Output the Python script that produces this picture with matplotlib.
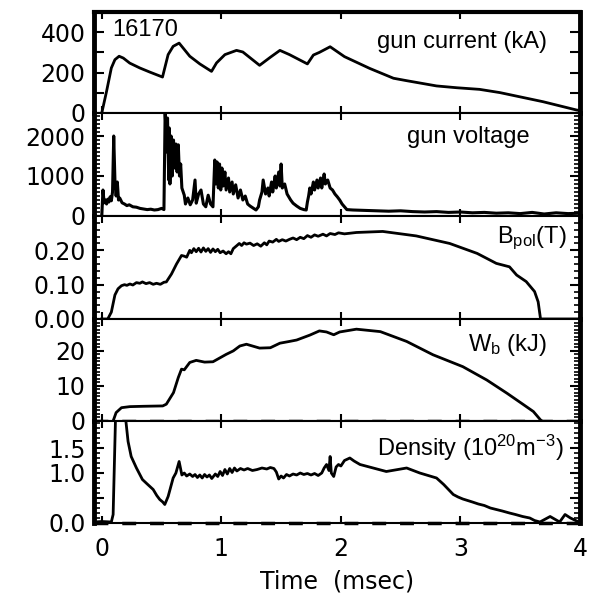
import matplotlib
matplotlib.use("Agg")
import matplotlib.pyplot as plt
from matplotlib.ticker import MultipleLocator, FixedLocator

plt.rcParams['font.family'] = ['DejaVu Sans']
plt.rcParams['mathtext.default'] = 'regular'

# gun current (kA)
cur_t = [0.0, 0.04, 0.08, 0.11, 0.145, 0.18, 0.234, 0.318, 0.40, 0.508, 0.527, 0.555,
         0.597, 0.647, 0.68, 0.736, 0.82, 0.918, 0.96, 1.03, 1.127, 1.18, 1.32, 1.41,
         1.49, 1.57, 1.72, 1.77, 1.82, 1.91, 2.03, 2.24, 2.44, 2.55, 2.80, 2.97, 3.16,
         3.33, 3.53, 3.69, 3.97, 4.0]
cur_v = [0, 107, 223, 264, 281, 272, 247, 223, 203, 178, 223, 289, 330, 346, 322, 281,
         243, 206, 248, 289, 310, 302, 236, 276, 310, 289, 243, 287, 300, 328, 279, 221,
         172, 160, 134, 125, 117, 101, 76, 56, 15, 12]

# gun voltage (V)
volt_t = [0.0, 0.01, 0.02, 0.03, 0.04, 0.05, 0.06, 0.07, 0.08, 0.09, 0.10, 0.11, 0.12,
          0.13, 0.14, 0.15, 0.17, 0.19, 0.21, 0.23, 0.26, 0.29, 0.32, 0.35, 0.38, 0.41,
          0.44, 0.47, 0.50, 0.52, 0.53, 0.545, 0.55, 0.56, 0.565, 0.57, 0.58, 0.59, 0.60,
          0.61, 0.62, 0.63, 0.64, 0.65, 0.66, 0.67, 0.69, 0.70, 0.72, 0.74, 0.76, 0.78,
          0.79, 0.81, 0.83, 0.85, 0.87, 0.89, 0.91, 0.93, 0.945, 0.955, 0.965, 0.975,
          0.985, 0.995, 1.005, 1.015, 1.03, 1.04, 1.06, 1.07, 1.09, 1.10, 1.12, 1.14,
          1.16, 1.18, 1.20, 1.22, 1.24, 1.27, 1.29, 1.31, 1.32, 1.34, 1.35, 1.37, 1.39,
          1.40, 1.42, 1.43, 1.45, 1.46, 1.48, 1.49, 1.50, 1.51, 1.53, 1.55, 1.58, 1.60,
          1.63, 1.66, 1.69, 1.71, 1.72, 1.73, 1.74, 1.75, 1.77, 1.78, 1.80, 1.81, 1.83,
          1.84, 1.86, 1.87, 1.89, 1.91, 1.93, 1.95, 1.97, 1.99, 2.01, 2.03, 2.05, 2.10,
          2.2, 2.3, 2.4, 2.5, 2.6, 2.7, 2.8, 2.9, 3.0, 3.1, 3.2, 3.3, 3.4, 3.5, 3.6, 3.7,
          3.8, 3.9, 4.0]
volt_v = [0, 650, 330, 400, 300, 420, 350, 480, 380, 600, 2000, 900, 500, 850, 400, 450,
          330, 300, 260, 280, 230, 220, 190, 175, 160, 170, 150, 160, 190, 160, 2600, 1600,
          2450, 900, 2200, 800, 2000, 1000, 1900, 1200, 1800, 1100, 1780, 1000, 1300, 700,
          520, 300, 450, 280, 400, 900, 320, 550, 650, 300, 230, 520, 300, 230, 1400, 800,
          1350, 700, 1300, 650, 1200, 750, 1100, 650, 950, 600, 850, 550, 780, 450, 650,
          400, 500, 300, 250, 190, 150, 230, 400, 600, 900, 550, 700, 500, 850, 600, 1000,
          700, 1100, 750, 1300, 700, 800, 550, 400, 320, 250, 190, 160, 150, 350, 500, 700,
          550, 850, 650, 900, 700, 950, 700, 1050, 800, 900, 700, 650, 550, 480, 400, 300,
          230, 160, 150, 140, 130, 120, 130, 110, 100, 110, 90, 100, 80, 90, 70, 80, 60, 90,
          50, 80, 60, 70]

# poloidal field (T)
bpol_t = [0.0, 0.05, 0.08, 0.11, 0.136, 0.165, 0.19, 0.21, 0.235, 0.26, 0.29, 0.318,
          0.34, 0.37, 0.40, 0.43, 0.458, 0.49, 0.52, 0.54, 0.583, 0.625, 0.667, 0.69,
          0.71, 0.736, 0.75, 0.77, 0.79, 0.81, 0.83, 0.85, 0.87, 0.89, 0.91, 0.93, 0.95,
          0.97, 0.99, 1.015, 1.04, 1.06, 1.08, 1.10, 1.127, 1.15, 1.17, 1.19, 1.21, 1.24,
          1.27, 1.30, 1.33, 1.36, 1.38, 1.40, 1.43, 1.46, 1.48, 1.51, 1.54, 1.57, 1.60,
          1.63, 1.66, 1.69, 1.72, 1.75, 1.78, 1.81, 1.85, 1.88, 1.91, 1.95, 1.98, 2.03,
          2.13, 2.35, 2.63, 2.91, 3.14, 3.30, 3.41, 3.47, 3.55, 3.62, 3.65, 3.67, 4.0]
bpol_v = [0.0, 0.0, 0.02, 0.07, 0.088, 0.097, 0.10, 0.098, 0.102, 0.099, 0.106, 0.104,
          0.108, 0.103, 0.106, 0.101, 0.104, 0.101, 0.107, 0.108, 0.131, 0.16, 0.185,
          0.183, 0.18, 0.20, 0.193, 0.205, 0.196, 0.206, 0.195, 0.207, 0.197, 0.205,
          0.194, 0.204, 0.196, 0.203, 0.193, 0.198, 0.19, 0.196, 0.19, 0.205, 0.213, 0.22,
          0.214, 0.222, 0.218, 0.221, 0.214, 0.219, 0.212, 0.222, 0.216, 0.227, 0.224,
          0.232, 0.226, 0.231, 0.227, 0.232, 0.236, 0.231, 0.238, 0.234, 0.243, 0.238,
          0.245, 0.241, 0.247, 0.242, 0.249, 0.246, 0.251, 0.248, 0.252, 0.255, 0.242,
          0.22, 0.191, 0.162, 0.152, 0.128, 0.109, 0.08, 0.05, 0.0, 0.0]

# Wb (kJ)
wb_t = [0.08, 0.095, 0.12, 0.165, 0.235, 0.35, 0.51, 0.54, 0.60, 0.64, 0.667, 0.69, 0.736,
        0.79, 0.86, 0.93, 1.04, 1.10, 1.155, 1.21, 1.32, 1.41, 1.49, 1.57, 1.63, 1.74,
        1.82, 1.88, 1.94, 1.99, 2.13, 2.33, 2.55, 2.77, 3.02, 3.22, 3.39, 3.53, 3.61, 3.67,
        3.72]
wb_v = [-1.0, 0.0, 2.4, 3.8, 4.1, 4.2, 4.3, 4.8, 8.1, 12.4, 14.8, 14.6, 16.7, 17.3, 16.8,
        16.9, 19.0, 20.0, 21.4, 21.9, 20.8, 20.9, 22.2, 22.7, 23.1, 24.5, 25.7, 25.4, 24.6,
        25.4, 26.2, 25.5, 22.7, 18.9, 15.5, 11.7, 7.9, 4.6, 2.7, 0.3, -1.0]

# density (1e20 m^-3)
dens_t = [-0.06, 0.0, 0.08, 0.095, 0.117, 0.19, 0.22, 0.246, 0.29, 0.34, 0.38, 0.43, 0.46,
          0.485, 0.51, 0.527, 0.555, 0.597, 0.62, 0.647, 0.67, 0.69, 0.71, 0.736, 0.76,
          0.78, 0.80, 0.82, 0.84, 0.86, 0.88, 0.90, 0.92, 0.95, 0.97, 0.99, 1.01, 1.03,
          1.05, 1.07, 1.09, 1.11, 1.13, 1.16, 1.19, 1.22, 1.26, 1.30, 1.34, 1.38, 1.41,
          1.44, 1.46, 1.48, 1.50, 1.52, 1.545, 1.57, 1.60, 1.63, 1.66, 1.69, 1.72, 1.75,
          1.78, 1.81, 1.84, 1.86, 1.88, 1.90, 1.91, 1.92, 1.94, 1.96, 1.98, 2.0, 2.03,
          2.075, 2.11, 2.16, 2.27, 2.38, 2.55, 2.66, 2.80, 2.86, 2.94, 2.98, 3.02, 3.06,
          3.10, 3.15, 3.20, 3.25, 3.30, 3.35, 3.41, 3.46, 3.52, 3.58, 3.62, 3.665, 3.75,
          3.83, 3.875, 3.92, 3.99]
dens_v = [0.02, 0.03, 0.02, 0.17, 2.3, 2.3, 1.63, 1.33, 1.10, 0.87, 0.78, 0.67, 0.55, 0.47,
          0.42, 0.37, 0.53, 0.90, 1.0, 1.23, 0.96, 1.0, 0.94, 0.98, 0.93, 0.97, 0.91, 0.96,
          0.90, 0.97, 0.92, 0.96, 0.89, 0.98, 0.93, 1.03, 0.95, 1.07, 0.98, 1.09, 1.01,
          1.10, 1.04, 1.09, 1.06, 1.09, 1.05, 1.07, 1.10, 1.08, 1.11, 1.09, 1.02, 0.88,
          0.94, 0.90, 0.97, 0.94, 0.98, 0.96, 1.00, 0.97, 0.99, 0.96, 0.99, 0.95, 1.00,
          1.10, 1.17, 1.05, 1.33, 1.00, 0.93, 1.12, 1.17, 1.14, 1.25, 1.30, 1.24, 1.17,
          1.10, 1.03, 1.10, 1.00, 0.90, 0.77, 0.57, 0.52, 0.48, 0.45, 0.42, 0.38, 0.35,
          0.30, 0.27, 0.24, 0.20, 0.17, 0.13, 0.10, 0.05, 0.02, 0.13, 0.02, 0.17, 0.10, 0.02]

W, H = 591, 596
edges = [12, 113, 216, 319, 421, 523]
left, right = 94, 580

fig = plt.figure(figsize=(W / 100, H / 100), dpi=100)
axes = []
for i in range(5):
    ax = fig.add_axes([left / W, 1 - edges[i + 1] / H, (right - left) / W,
                       (edges[i + 1] - edges[i]) / H])
    axes.append(ax)

lw = 2.0
axes[0].plot(cur_t, cur_v, color='k', lw=lw)
axes[1].plot(volt_t, volt_v, color='k', lw=2.2)
axes[2].plot(bpol_t, bpol_v, color='k', lw=lw)
axes[3].plot(wb_t, wb_v, color='k', lw=lw)
axes[4].plot(dens_t, dens_v, color='k', lw=lw)

ylims = [(0, 500), (0, 2575), (0, 0.30), (0, 29.1), (0, 2.04)]
majors = [[0, 200, 400], [0, 1000, 2000], [0, 0.1, 0.2], [0, 10, 20], [0, 0.5, 1.0, 1.5]]
minors = [100, 100, 0.02, 1, 0.1]
fmts = [lambda v: '%d' % v, lambda v: '%d' % v, lambda v: '%.2f' % v,
        lambda v: '%d' % v, lambda v: '' if v == 0.5 else '%.1f' % v]

for i, ax in enumerate(axes):
    ax.set_xlim(-0.065, 4.0)
    ax.set_ylim(*ylims[i])
    ax.yaxis.set_major_locator(FixedLocator(majors[i]))
    ax.set_yticklabels([fmts[i](v) for v in majors[i]])
    ax.yaxis.set_minor_locator(MultipleLocator(minors[i]))
    ax.xaxis.set_major_locator(FixedLocator([0, 1, 2, 3, 4]))
    ax.tick_params(axis='y', which='major', direction='in', left=True, right=True,
                   length=7, width=1.5, labelsize=17, pad=6)
    ax.tick_params(axis='y', which='minor', direction='in', left=True, right=True,
                   length=4, width=1.2)
    ax.tick_params(axis='x', which='major', direction='in', top=True, bottom=True,
                   length=5, width=1.5, labelsize=17, pad=10)
    if i < 4:
        ax.tick_params(axis='x', labelbottom=False)
    ax.spines['left'].set_linewidth(3.5)
    ax.spines['right'].set_linewidth(3.5)
    ax.spines['top'].set_linewidth(1.5)
    ax.spines['bottom'].set_linewidth(1.5)

axes[0].spines['top'].set_linewidth(3)
axes[0].set_yticks([100, 300, 500], minor=True)
axes[0].tick_params(axis='y', which='minor', length=7, width=1.5)

for ax in (axes[3], axes[4]):
    ax.axhline(0, color='k', lw=2.5, ls=(0, (4, 4)), clip_on=False, zorder=5)

axes[4].set_xlabel('Time  (msec)', fontsize=17, labelpad=6)

lab = dict(family=['Liberation Sans'], fontsize=17, color='k')
axes[0].text(0.09, 411, '16170', ha='left', va='center', **lab)
axes[0].text(3.72, 351, 'gun current (kA)', ha='right', va='center', **lab)
axes[1].text(3.58, 1975, 'gun voltage', ha='right', va='center', **lab)
axes[2].text(3.89, 0.236, 'B$_{pol}$(T)', ha='right', va='center', **lab)
axes[3].text(3.72, 21.7, 'W$_{b}$ (kJ)', ha='right', va='center', **lab)
axes[4].text(3.86, 1.5, 'Density (10$^{20}$m$^{-3}$)', ha='right', va='center', **lab)

fig.savefig('out.png', dpi=100)
